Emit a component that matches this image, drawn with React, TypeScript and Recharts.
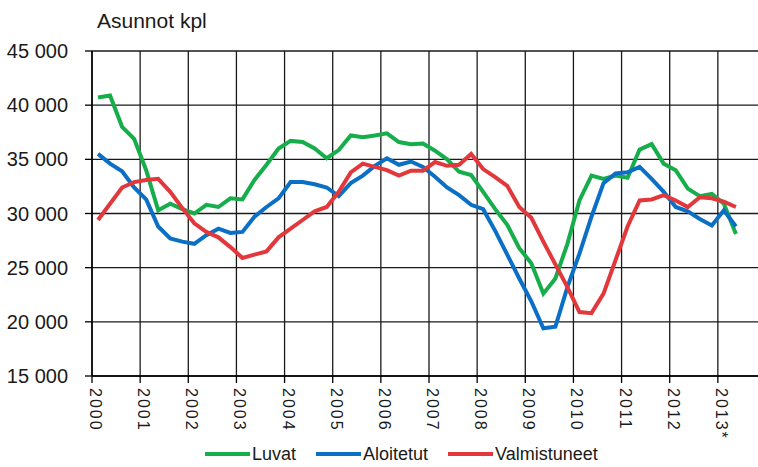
import { LineChart, Line, XAxis, YAxis, CartesianGrid } from "recharts";

// Neljännesvuosittain 2000 Q1 – 2013 Q2
const luvat = [
  40700, 40900, 38000, 36900,
  34000, 30300, 30900, 30400,
  30000, 30800, 30600, 31400,
  31300, 33100, 34500, 36000,
  36700, 36600, 36000, 35100,
  35850, 37200, 37050, 37200,
  37400, 36600, 36400, 36450,
  35800, 35000, 33850, 33550,
  32000, 30400, 28950, 26800,
  25400, 22600, 24000, 27200,
  31200, 33500, 33200, 33500,
  33300, 35900, 36400, 34600,
  34000, 32300, 31600, 31800,
  30900, 28100,
];

const aloitetut = [
  35500, 34600, 33900, 32400,
  31300, 28800, 27700, 27400,
  27200, 28000, 28600, 28200,
  28300, 29700, 30600, 31400,
  32900, 32900, 32700, 32400,
  31600, 32800, 33500, 34400,
  35100, 34500, 34800, 34300,
  33400, 32400, 31700, 30800,
  30400, 28400, 26200, 24000,
  21900, 19400, 19550, 23200,
  26300, 29700, 32800, 33700,
  33800, 34300, 33200, 32000,
  30600, 30200, 29500, 28900,
  30300, 28800,
];

const valmistuneet = [
  29400, 30900, 32400, 32900,
  33100, 33200, 32000, 30500,
  29100, 28300, 27800, 26900,
  25900, 26200, 26500, 27800,
  28600, 29400, 30200, 30600,
  32000, 33800, 34600, 34300,
  34000, 33500, 33950, 33950,
  34750, 34400, 34500, 35500,
  34100, 33350, 32550, 30600,
  29600, 27400, 25300, 23200,
  20900, 20800, 22600, 25700,
  28800, 31200, 31300, 31700,
  31200, 30600, 31500, 31400,
  31100, 30600,
];

const yTicks = [15000, 20000, 25000, 30000, 35000, 40000, 45000];
const yearTicks = [0, 4, 8, 12, 16, 20, 24, 28, 32, 36, 40, 44, 48, 52];

const series = [
  { key: "luvat", name: "Luvat", color: "#16ad4b" },
  { key: "aloitetut", name: "Aloitetut", color: "#0b6fc6" },
  { key: "valmistuneet", name: "Valmistuneet", color: "#e2383c" },
];

const data = luvat.map((v, i) => ({
  x: i + 0.5,
  luvat: v,
  aloitetut: aloitetut[i],
  valmistuneet: valmistuneet[i],
}));

const font = "'Liberation Sans', Arial, sans-serif";

const formatThousands = (v: number) => {
  const s = String(v);
  return s.slice(0, s.length - 3) + " " + s.slice(-3);
};

const YearTick = (props: any) => {
  const { x, y, payload } = props;
  const year = 2000 + payload.value / 4;
  const label = year === 2013 ? "2013*" : String(year);
  return (
    <text
      transform={`translate(${x - 2},${y + 5}) rotate(90)`}
      textAnchor="start"
      fontSize={16}
      letterSpacing={2}
      fontFamily={font}
      fill="#1a1a1a"
    >
      {label}
    </text>
  );
};

export default function App() {
  return (
    <div
      style={{
        position: "absolute",
        left: 0,
        top: 0,
        width: 758,
        height: 467,
        overflow: "hidden",
        background: "#fff",
        fontFamily: font,
      }}
    >
      <div
        style={{
          position: "absolute",
          left: 97,
          top: 9.5,
          fontSize: 21,
          lineHeight: "21px",
          color: "#1a1a1a",
        }}
      >
        Asunnot kpl
      </div>
      <LineChart
        width={766}
        height={467}
        data={data}
        margin={{ top: 51, right: 0, bottom: 0, left: 0 }}
      >
        <CartesianGrid stroke="#1a1a1a" strokeWidth={1.3} />
        <XAxis
          type="number"
          dataKey="x"
          domain={[0, 56]}
          ticks={yearTicks}
          interval={0}
          height={91}
          tickSize={7}
          tickMargin={0}
          tick={<YearTick />}
          axisLine={{ stroke: "#000", strokeWidth: 1.5 }}
          tickLine={{ stroke: "#000", strokeWidth: 1.3 }}
        />
        <YAxis
          type="number"
          domain={[15000, 45000]}
          ticks={yTicks}
          width={92}
          tickSize={7}
          tickMargin={17}
          tickFormatter={formatThousands}
          tick={{ fontSize: 20, fill: "#1a1a1a", fontFamily: font }}
          axisLine={{ stroke: "#000", strokeWidth: 1.5 }}
          tickLine={{ stroke: "#000", strokeWidth: 1.3 }}
        />
        {series.map((s) => (
          <Line
            key={s.key}
            type="linear"
            dataKey={s.key}
            name={s.name}
            stroke={s.color}
            strokeWidth={4}
            dot={false}
            isAnimationActive={false}
          />
        ))}
      </LineChart>
      <div
        style={{
          position: "absolute",
          left: 205,
          top: 444,
          display: "flex",
          gap: 20,
          alignItems: "center",
          fontSize: 18,
          lineHeight: "20px",
          color: "#1a1a1a",
        }}
      >
        {series.map((s) => (
          <div key={s.key} style={{ display: "flex", alignItems: "center" }}>
            <div style={{ width: 45, height: 4, background: s.color, marginRight: 2 }} />
            <span>{s.name}</span>
          </div>
        ))}
      </div>
    </div>
  );
}
